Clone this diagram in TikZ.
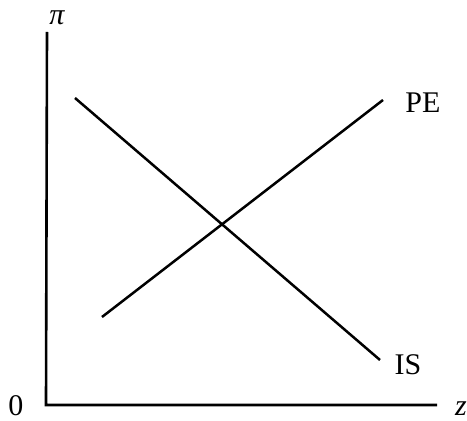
\documentclass[tikz,border=0pt]{standalone}
\usepackage{fontspec}
\setmainfont{Liberation Serif}
\begin{document}
\begin{tikzpicture}[x=1pt,y=1pt,
  curve/.style={line width=2.5pt},
  axis/.style={line width=2.6pt},
  lbl/.style={inner sep=0pt,font=\fontsize{30}{36}\selectfont}]
\useasboundingbox (0,0) rectangle (467,421);
\coordinate (ytop) at (47,389);
\coordinate (orig) at (46,16);
\coordinate (xend) at (437,16);
\coordinate (is1) at (75,323);
\coordinate (is2) at (380,61);
\coordinate (pe1) at (102,104);
\coordinate (pe2) at (383,321);
\draw[axis] (ytop) -- (orig) -- (xend);
\draw[curve] (is1) -- (is2);
\draw[curve] (pe1) -- (pe2);
\node[lbl] (pelbl) at (423,318) {PE};
\node[lbl] (islbl) at (408,56) {IS};
\node[lbl] (zlbl) at (461,12) {\itshape z};
\node[lbl] (zero) at (16,15) {0};
\node[lbl] (pilbl) at (57,403) {\itshape π};
\end{tikzpicture}
\end{document}
